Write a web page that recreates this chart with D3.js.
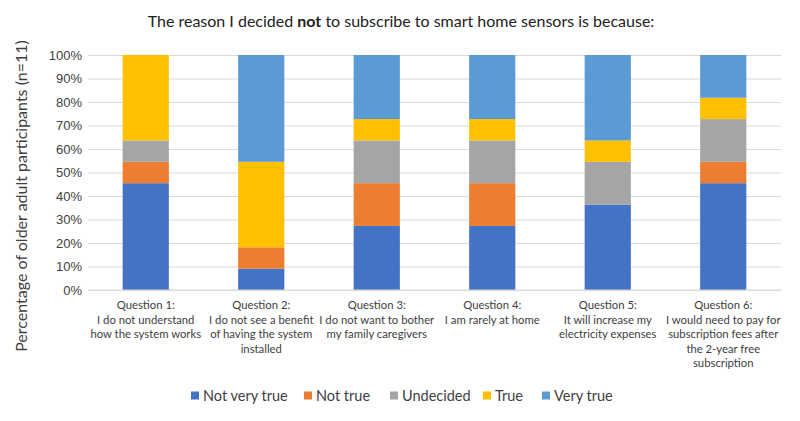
<!DOCTYPE html>
<html>
<head>
<meta charset="utf-8">
<script src="https://cdn.jsdelivr.net/npm/d3@7"></script>
<style>
  body { margin: 0; background: #fff; }
  svg { font-family: Lato, "Open Sans", sans-serif; }
</style>
</head>
<body>
<div id="chart"></div>
<script>
// data: counts out of 11 participants, shown as percent
const questions = [
  ['Question 1:', 'I do not understand', 'how the system works'],
  ['Question 2:', 'I do not see a benefit', 'of having the system', 'installed'],
  ['Question 3:', 'I do not want to bother', 'my family caregivers'],
  ['Question 4:', 'I am rarely at home'],
  ['Question 5:', 'It will increase my', 'electricity expenses'],
  ['Question 6:', 'I would need to pay for', 'subscription fees after', 'the 2-year free', 'subscription']
];
const answers = ['Not very true', 'Not true', 'Undecided', 'True', 'Very true'];
const colors = ['#4472C4', '#ED7D31', '#A5A5A5', '#FFC000', '#5B9BD5'];
const notVeryTrue = [5, 1, 3, 3, 4, 5];
const notTrue     = [1, 1, 2, 2, 0, 1];
const undecided   = [1, 0, 2, 2, 2, 2];
const isTrue      = [4, 4, 1, 1, 1, 1];
const veryTrue    = [0, 5, 3, 3, 4, 2];
const n = 11;
const yTicks = [0, 0.1, 0.2, 0.3, 0.4, 0.5, 0.6, 0.7, 0.8, 0.9, 1];

const width = 800;
const height = 421;
const margin = { top: 55, right: 19, bottom: 131, left: 88 };

const rows = questions.map((q, i) => ({
  key: i,
  'Not very true': notVeryTrue[i] / n,
  'Not true': notTrue[i] / n,
  'Undecided': undecided[i] / n,
  'True': isTrue[i] / n,
  'Very true': veryTrue[i] / n
}));
const stacked = d3.stack().keys(answers)(rows);

const svg = d3.select('#chart').append('svg')
  .attr('width', width).attr('height', height);

const xScale = d3.scaleBand()
  .domain(questions.map((q, i) => i))
  .range([margin.left, width - margin.right])
  .paddingInner(0.6).paddingOuter(0.3);
const yScale = d3.scaleLinear().domain([0, 1]).range([height - margin.bottom, margin.top]);
const colorScale = d3.scaleOrdinal(answers, colors);

// title
const title = svg.append('text')
  .attr('x', 401).attr('y', 27)
  .attr('text-anchor', 'middle')
  .style('font-size', '16px').attr('fill', '#222');
title.append('tspan').text('The reason I decided ');
title.append('tspan').style('font-weight', 'bold').text('not');
title.append('tspan').text(' to subscribe to smart home sensors is because:');

// gridlines
svg.append('g')
  .attr('transform', `translate(${margin.left},0)`)
  .call(d3.axisLeft(yScale).tickValues(yTicks).tickFormat('').tickSize(-(width - margin.left - margin.right)))
  .call(g => g.select('.domain').remove())
  .call(g => g.selectAll('line').attr('stroke', '#d9d9d9').attr('stroke-width', 1));

// y axis labels
svg.append('g')
  .attr('transform', `translate(${margin.left},0)`)
  .call(d3.axisLeft(yScale).tickValues(yTicks).tickFormat(d3.format('.0%')).tickSize(0).tickPadding(6))
  .call(g => g.select('.domain').remove())
  .call(g => g.selectAll('text').style('font-size', '13px').attr('fill', '#404040'));

// bars
svg.append('g').selectAll('g')
  .data(stacked)
  .join('g')
  .attr('fill', d => colorScale(d.key))
  .selectAll('rect')
  .data(d => d)
  .join('rect')
  .attr('x', d => xScale(d.data.key))
  .attr('y', d => yScale(d[1]))
  .attr('height', d => yScale(d[0]) - yScale(d[1]))
  .attr('width', xScale.bandwidth());

// x axis baseline
svg.append('line')
  .attr('x1', margin.left).attr('x2', width - margin.right)
  .attr('y1', yScale(0)).attr('y2', yScale(0))
  .attr('stroke', '#d9d9d9');

// category labels
const catLabels = svg.append('g').selectAll('text')
  .data(questions)
  .join('text')
  .attr('x', (d, i) => xScale(i) + xScale.bandwidth() / 2)
  .attr('y', yScale(0) + 19)
  .attr('text-anchor', 'middle')
  .style('font-size', '11.3px').attr('fill', '#404040');
catLabels.selectAll('tspan')
  .data(d => d)
  .join('tspan')
  .attr('x', function() { return this.parentNode.getAttribute('x'); })
  .attr('dy', (d, i) => i === 0 ? 0 : 14.5)
  .text(d => d);

// y axis title
svg.append('text')
  .attr('transform', `translate(27,196) rotate(-90)`)
  .attr('text-anchor', 'middle')
  .style('font-size', '16px').attr('fill', '#404040')
  .text('Percentage of older adult participants (n=11)');

// legend
const legendX = [191, 304, 390, 483, 542];
const legend = svg.append('g').selectAll('g')
  .data(answers)
  .join('g')
  .attr('transform', (d, i) => `translate(${legendX[i]},396)`);
legend.append('rect')
  .attr('x', 0).attr('y', -4.5).attr('width', 8).attr('height', 8)
  .attr('fill', d => colorScale(d));
legend.append('text')
  .attr('x', 12).attr('y', 5)
  .style('font-size', '14.5px').attr('fill', '#404040')
  .text(d => d);
</script>
</body>
</html>
